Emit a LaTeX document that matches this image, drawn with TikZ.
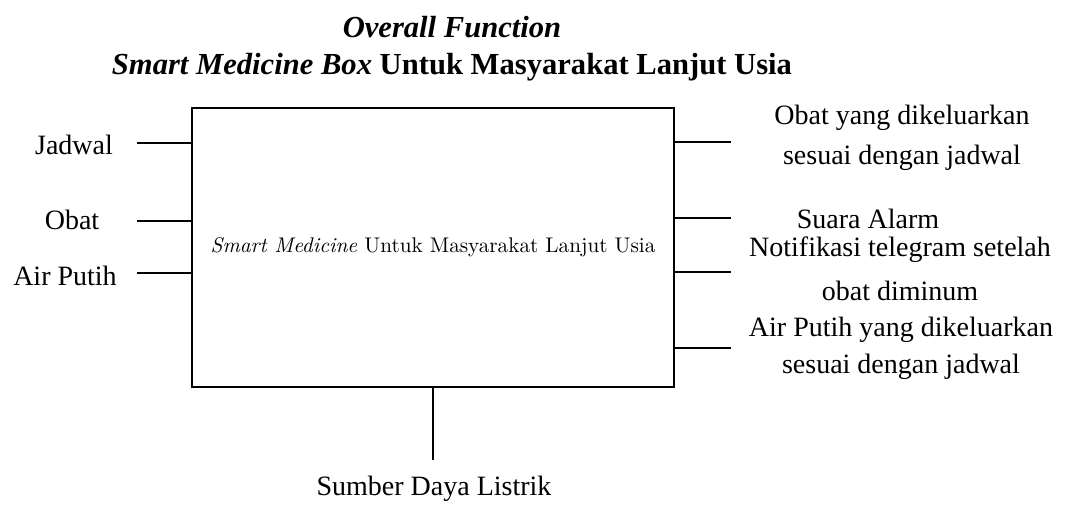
\documentclass[tikz,border=0pt]{standalone}
\usepackage{fontspec}
\setmainfont{Liberation Serif}
\newfontfamily\lmfont{Latin Modern Roman}
\usetikzlibrary{positioning,calc}

\begin{document}
\begin{tikzpicture}[x=0.5pt,y=-0.5pt,
    lbl/.style={font=\fontsize{14}{20}\selectfont,align=center,anchor=base,inner sep=0pt},
    conn/.style={line width=1pt},
    fnbox/.style={draw,line width=1.3pt,minimum width=241pt,minimum height=139.5pt,inner sep=0pt}]
    \useasboundingbox (0,0) rectangle (1066,505);
    % title (base = last line)
    \node[lbl,font=\fontsize{15.3}{18.5}\selectfont\bfseries] (title) at (452,74)
      {\textit{Overall Function}\\\textit{Smart Medicine Box} Untuk Masyarakat Lanjut Usia};
    % main function box
    \node[fnbox] (sys) at (433,247.5)
      {\lmfont\fontsize{10.6}{13}\selectfont\textit{Smart Medicine} Untuk Masyarakat Lanjut Usia};
    % inputs
    \node[lbl] (jadwal) at (74,154) {Jadwal};
    \node[lbl] (obat) at (72,229) {Obat};
    \node[lbl] (air) at (65,285) {Air Putih};
    \coordinate (injadwal) at (137,143);
    \coordinate (inobat) at (137,221);
    \coordinate (inair) at (137,273);
    \foreach \c in {injadwal,inobat,inair}
      \draw[conn] (\c) -- (sys.west |- \c);
    % outputs (base = last line)
    \node[lbl] (outobat) at (902,164) {Obat yang dikeluarkan\\sesuai dengan jadwal};
    \node[lbl] (alarm) at (868,228) {Suara Alarm};
    \node[lbl] (notif) at (900,300) {Notifikasi telegram setelah\\[2pt]obat diminum};
    \node[lbl] (outair) at (901,373) {Air Putih yang dikeluarkan\\[-1.5pt]sesuai dengan jadwal};
    \coordinate (o1) at (731,142);
    \coordinate (o2) at (731,218);
    \coordinate (o3) at (731,272);
    \coordinate (o4) at (731,348);
    \foreach \c in {o1,o2,o3,o4}
      \draw[conn] (sys.east |- \c) -- (\c);
    % energy
    \coordinate (pwr) at (433,460);
    \node[lbl] (listrik) at (434,495) {Sumber Daya Listrik};
    \draw[conn] (sys.south) -- (pwr);
  \end{tikzpicture}
\end{document}
